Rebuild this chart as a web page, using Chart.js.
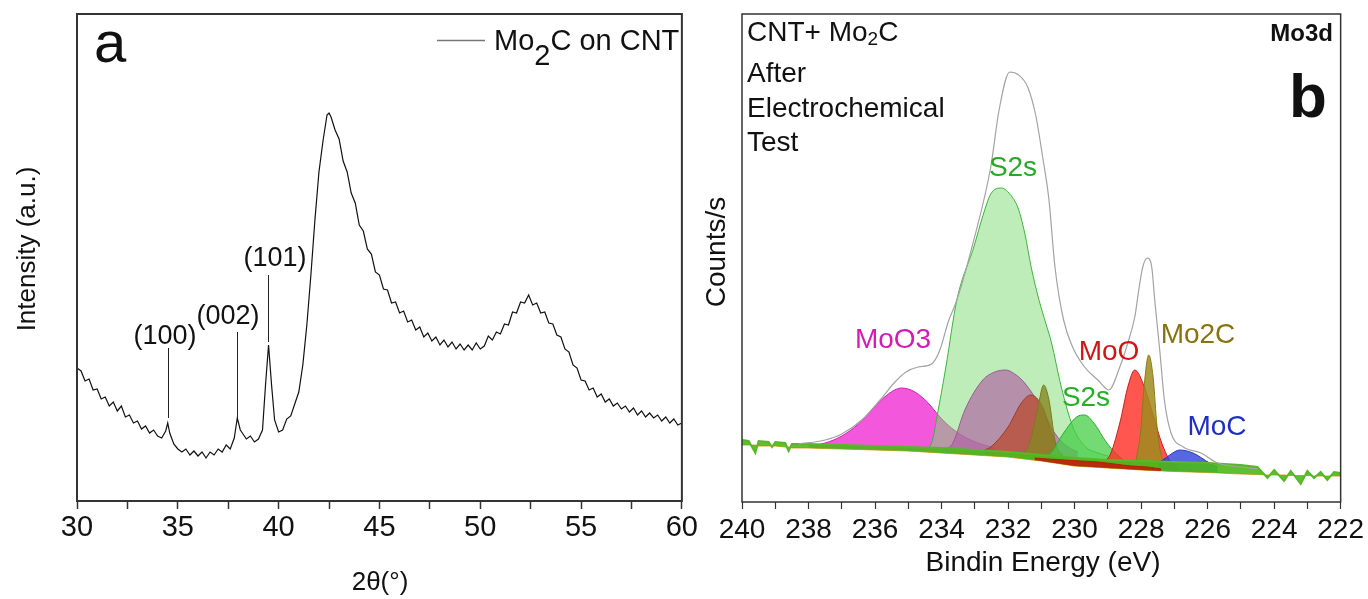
<!DOCTYPE html>
<html>
<head>
<meta charset="utf-8">
<script src="https://cdn.jsdelivr.net/npm/chart.js@4.4.1/dist/chart.umd.min.js"></script>
<style>
  html, body { margin: 0; padding: 0; background: #fff; }
  #wrap { position: relative; width: 1368px; height: 599px; }
  #xrd { position: absolute; left: 0; top: 0; }
  #xps { position: absolute; left: 700px; top: 0; }
</style>
</head>
<body>
<div id="wrap">
  <canvas id="xrd" width="700" height="599"></canvas>
  <canvas id="xps" width="668" height="599"></canvas>
</div>
<script>
const FONT = '"Liberation Sans", Arial, sans-serif';

// ---- panel a : XRD of Mo2C on CNT ----
const xrdAngle = [
  30.0, 30.2, 30.4, 30.6, 30.8, 31.0, 31.2, 31.4, 31.6, 31.8,
  32.0, 32.2, 32.4, 32.6, 32.8, 33.0, 33.2, 33.4, 33.6, 33.8,
  34.0, 34.2, 34.4, 34.5, 34.6, 34.8, 35.0, 35.2, 35.4, 35.6,
  35.8, 36.0, 36.2, 36.4, 36.6, 36.8, 37.0, 37.2, 37.4, 37.6,
  37.8, 37.95, 38.1, 38.2, 38.4, 38.6, 38.8, 39.0, 39.2, 39.35,
  39.5, 39.65, 39.8, 40.0, 40.2, 40.4, 40.6, 40.8, 41.0, 41.2,
  41.4, 41.6, 41.8, 42.0, 42.2, 42.4, 42.5, 42.6, 42.8, 43.0,
  43.2, 43.4, 43.6, 43.8, 44.0, 44.2, 44.4, 44.6, 44.8, 45.0,
  45.2, 45.4, 45.6, 45.8, 46.0, 46.2, 46.4, 46.6, 46.8, 47.0,
  47.2, 47.4, 47.6, 47.8, 48.0, 48.2, 48.4, 48.6, 48.8, 49.0,
  49.2, 49.4, 49.6, 49.8, 50.0, 50.2, 50.4, 50.6, 50.8, 51.0,
  51.2, 51.4, 51.6, 51.8, 52.0, 52.2, 52.4, 52.6, 52.8, 53.0,
  53.2, 53.4, 53.6, 53.8, 54.0, 54.2, 54.4, 54.6, 54.8, 55.0,
  55.2, 55.4, 55.6, 55.8, 56.0, 56.2, 56.4, 56.6, 56.8, 57.0,
  57.2, 57.4, 57.6, 57.8, 58.0, 58.2, 58.4, 58.6, 58.8, 59.0,
  59.2, 59.4, 59.6, 59.8, 60.0
];
const xrdIntensity = [
  133, 130, 120, 122, 111, 112, 102, 104, 95, 99,
  90, 95, 84, 86, 78, 80, 72, 75, 68, 71,
  65, 63, 70, 78, 68, 57, 52, 49, 52, 46,
  50, 45, 49, 43, 49, 46, 52, 49, 56, 52,
  63, 83, 71, 68, 62, 65, 59, 62, 71, 116,
  156, 116, 81, 69, 71, 82, 85, 97, 109, 136,
  176, 226, 281, 329, 360, 386, 388, 384, 371, 362,
  340, 329, 308, 298, 276, 270, 252, 247, 229, 226,
  212, 211, 198, 199, 188, 190, 179, 181, 171, 174,
  164, 168, 160, 164, 156, 161, 154, 159, 152, 157,
  151, 156, 151, 158, 152, 155, 165, 161, 169, 167,
  177, 176, 189, 188, 199, 198, 206, 196, 198, 188,
  189, 178, 177, 166, 164, 152, 149, 136, 133, 121,
  120, 111, 113, 104, 107, 99, 102, 95, 98, 92,
  95, 89, 93, 86, 90, 84, 88, 83, 86, 80,
  84, 78, 82, 76, 78
];
const peakNames = ['(100)', '(002)', '(101)'];
const peakAngle = [34.5, 37.93, 39.47];
const peakLineFrom = [83, 83, 159];
const peakLineTo = [153, 169, 226];

// ---- panel b : XPS Mo3d, CNT + Mo2C after electrochemical test ----
const bgEnergy = [240, 239.8, 239.6, 239.5, 239.2, 239.1, 239.0, 238.7, 238.6, 238.5,
  238, 237, 236, 235, 234, 233, 232, 231, 230, 229,
  228, 227, 226, 225, 224.5, 224.2, 224.0, 223.7, 223.5, 223.2,
  223.0, 222.8, 222.6, 222.4, 222.2, 222.0];
const bgUpper = [62, 61, 49, 61, 60, 55, 60, 59, 51, 58,
  58, 57, 56, 55, 54, 52, 50, 47, 44, 42,
  41, 40, 39, 37, 35, 24, 32, 21, 31, 18,
  31, 24, 30, 22, 30, 29];
const bgLower = [57, 57, 57, 56, 56, 56, 56, 55, 55, 54,
  54, 53, 52, 51, 49, 47, 45, 41, 36, 34,
  32, 30.5, 29.5, 28, 27.5, 27, 27, 27, 26.5, 26.5,
  26.5, 26, 26, 26, 26, 26];

const envEnergy = [238.3, 237.5, 237.0, 236.4, 235.85, 235.4, 235.07, 234.7, 234.3, 234.05,
  233.8, 233.54, 233.03, 232.52, 232.27, 231.95, 231.68, 231.41, 231.17, 230.96,
  230.77, 230.59, 230.33, 230.06, 229.7, 229.3, 228.97, 228.64, 228.4, 228.19,
  228.07, 227.95, 227.81, 227.68, 227.59, 227.44, 227.3, 227.1, 226.73, 226.2,
  225.7, 225.0, 224.5];
const envCounts = [58, 62, 68, 82, 102, 120, 130, 135, 138, 152,
  180, 202, 262, 335, 392, 430, 427, 415, 387, 345,
  302, 235, 182, 155, 135, 122, 112, 135, 159, 185,
  212, 235, 244, 235, 202, 152, 102, 69, 55, 49,
  39, 35, 33];

const moo3Energy = [238.0, 237.5, 237.0, 236.5, 236.1, 235.6, 235.2, 234.8, 234.4, 234.05, 233.7, 233.3, 232.9, 232.4];
const moo3Counts = [56, 59, 66, 78, 92, 108, 114, 110, 99, 85, 74, 65, 59, 54];

const s2sEnergy = [234.5, 234.3, 234.1, 233.87, 233.54, 233.03, 232.75, 232.52, 232.2, 231.9,
  231.7, 231.5, 231.3, 231.07, 230.85, 230.7, 230.4, 230.05, 229.7, 229.3, 229.0];
const s2sCounts = [53, 59, 92, 135, 202, 255, 287, 308, 314, 306,
  294, 269, 234, 202, 177, 160, 115, 75, 56, 49, 46];

const mauveEnergy = [233.9, 233.66, 233.3, 232.76, 232.4, 232.07, 231.8, 231.5, 230.96, 230.6, 230.2, 229.9];
const mauveCounts = [52, 59, 92, 122, 130, 132, 128, 119, 92, 69, 55, 50];

const brownEnergy = [232.7, 232.52, 232.0, 231.6, 231.32, 230.96, 230.7, 230.5, 230.35];
const brownCounts = [52, 55, 75, 99, 107, 95, 69, 52, 47];

const oliveEnergy = [231.5, 231.35, 231.1, 230.93, 230.77, 230.59, 230.45, 230.3];
const oliveCounts = [50, 59, 95, 117, 102, 62, 49, 45];

const s2sSmallEnergy = [230.9, 230.72, 230.33, 229.94, 229.7, 229.42, 229.03, 228.52, 228.3];
const s2sSmallCounts = [46, 49, 69, 85, 87, 79, 59, 42, 40];

const mooEnergy = [229.2, 228.97, 228.64, 228.4, 228.19, 227.9, 227.62, 227.38, 227.1, 226.9];
const mooCounts = [41, 45, 79, 115, 132, 115, 85, 59, 40, 37];

const mo2cEnergy = [228.15, 228.02, 227.9, 227.77, 227.64, 227.52, 227.38, 227.25];
const mo2cCounts = [42, 69, 119, 147, 125, 75, 45, 40];

const mocEnergy = [227.5, 227.35, 227.14, 226.84, 226.44, 225.94, 225.7];
const mocCounts = [39, 42, 47, 52, 49, 39, 35];

const redBandEnergy = [231.2, 230.8, 230.3, 229.8, 229.3, 228.8, 228.3, 227.8, 227.4];
const redBandCounts = [44, 43, 42, 41, 40, 38, 36, 35, 33];

const pts = (xs, ys) => xs.map((v, i) => ({ x: v, y: ys[i] }));

function drawRuns(ctx, runs, x, y) {
  // runs: [text, size, baseline shift]
  runs.forEach(([t, size, dy]) => {
    ctx.font = size + 'px ' + FONT;
    ctx.fillText(t, x, y + dy);
    x += ctx.measureText(t).width;
  });
}

// label anchors for the hkl tags, in data units
const hklLabelAt = [[34.36, 164], [37.49, 184], [39.82, 242]];

const xrdDecor = {
  id: 'xrdDecor',
  afterDraw(chart) {
    const { ctx, chartArea: a, scales: { x, y } } = chart;
    ctx.save();
    ctx.strokeStyle = '#333';
    ctx.lineWidth = 2;
    ctx.strokeRect(a.left, a.top, a.right - a.left, a.bottom - a.top);

    // hkl marker lines
    ctx.strokeStyle = '#222';
    ctx.lineWidth = 1;
    peakAngle.forEach((ang, i) => {
      const px = Math.round(x.getPixelForValue(ang)) + 0.5;
      ctx.beginPath();
      ctx.moveTo(px, y.getPixelForValue(peakLineFrom[i]));
      ctx.lineTo(px, y.getPixelForValue(peakLineTo[i]));
      ctx.stroke();
    });
    ctx.fillStyle = '#111';
    ctx.font = '27px ' + FONT;
    ctx.textAlign = 'center';
    ctx.textBaseline = 'middle';
    peakNames.forEach((t, i) => {
      ctx.fillText(t, x.getPixelForValue(hklLabelAt[i][0]), y.getPixelForValue(hklLabelAt[i][1]));
    });

    // panel letter
    ctx.textAlign = 'left';
    ctx.textBaseline = 'alphabetic';
    ctx.font = '58px ' + FONT;
    ctx.fillText('a', 94, 62);

    // legend
    ctx.strokeStyle = '#777';
    ctx.lineWidth = 1.5;
    ctx.beginPath();
    ctx.moveTo(437, 40.5);
    ctx.lineTo(485, 40.5);
    ctx.stroke();
    drawRuns(ctx, [['Mo', 29, 0], ['2', 29, 15], ['C on CNT', 29, 0]], 494, 50);

    // axis titles
    ctx.textAlign = 'center';
    ctx.textBaseline = 'middle';
    ctx.font = '26px ' + FONT;
    ctx.fillText('2\u03b8(\u00b0)', 380, 583);
    ctx.translate(28, 249);
    ctx.rotate(-Math.PI / 2);
    ctx.fillText('Intensity (a.u.)', 0, 0);
    ctx.restore();
  }
};

new Chart(document.getElementById('xrd'), {
  type: 'line',
  data: {
    datasets: [{
      data: pts(xrdAngle, xrdIntensity),
      borderColor: '#111',
      borderWidth: 1.2,
      pointRadius: 0,
      tension: 0,
      fill: false
    }]
  },
  options: {
    responsive: false,
    animation: false,
    layout: { padding: { left: 0, top: 14, right: 18, bottom: 0 } },
    plugins: { legend: { display: false }, tooltip: { enabled: false } },
    scales: {
      x: {
        type: 'linear', min: 30, max: 60,
        afterFit(s) { s.height = 98; },
        ticks: {
          stepSize: 2.5, autoSkip: false, maxRotation: 0, padding: 2,
          color: '#111', font: { family: FONT, size: 29 },
          callback: v => (v % 5 === 0 ? v : '')
        },
        grid: { drawOnChartArea: false, tickLength: 8, tickColor: '#333', tickWidth: 1.5 },
        border: { display: false }
      },
      y: {
        min: 0, max: 487,
        afterFit(s) { s.width = 77; },
        ticks: { display: false },
        grid: { display: false },
        border: { display: false }
      }
    }
  },
  plugins: [xrdDecor]
});

// ---- panel b chart ----
const comp = (data, fillColor, lineColor) => ({
  data, backgroundColor: fillColor, borderColor: lineColor, borderWidth: 1,
  fill: 'origin', pointRadius: 0, cubicInterpolationMode: 'monotone'
});

const xpsDecor = {
  id: 'xpsDecor',
  afterDraw(chart) {
    const { ctx, chartArea: a } = chart;
    ctx.save();
    ctx.strokeStyle = '#333';
    ctx.lineWidth = 1.5;
    ctx.strokeRect(a.left, a.top, a.right - a.left, a.bottom - a.top);

    ctx.fillStyle = '#111';
    ctx.textAlign = 'left';
    ctx.textBaseline = 'alphabetic';
    drawRuns(ctx, [['CNT+ Mo', 28, 0], ['2', 19, 4], ['C', 28, 0]], 47, 41);
    ctx.font = '28px ' + FONT;
    ctx.fillText('After', 47, 82);
    ctx.fillText('Electrochemical', 47, 117);
    ctx.fillText('Test', 47, 151);

    ctx.textAlign = 'right';
    ctx.font = 'bold 24px ' + FONT;
    ctx.fillText('Mo3d', 633, 41);
    ctx.textAlign = 'center';
    ctx.font = 'bold 62px ' + FONT;
    ctx.fillText('b', 608, 117);

    // component labels
    ctx.textBaseline = 'middle';
    ctx.font = '28px ' + FONT;
    const tags = [
      ['S2s', 313, 168, '#27a827'],
      ['MoO3', 193, 340, '#d21cb2'],
      ['MoO', 409, 352, '#d01515'],
      ['Mo2C', 498, 335, '#857410'],
      ['S2s', 386, 398, '#25b025'],
      ['MoC', 517, 427, '#1c2fc4']
    ];
    tags.forEach(([t, x, y, c]) => { ctx.fillStyle = c; ctx.fillText(t, x, y); });

    // axis titles
    ctx.fillStyle = '#111';
    ctx.fillText('Bindin Energy (eV)', 343, 563);
    ctx.translate(17, 252);
    ctx.rotate(-Math.PI / 2);
    ctx.fillText('Counts/s', 0, 0);
    ctx.restore();
  }
};

new Chart(document.getElementById('xps'), {
  type: 'line',
  data: {
    datasets: [
      // 0 envelope
      { data: pts(envEnergy, envCounts), borderColor: '#a3a3a3', borderWidth: 1.2, pointRadius: 0,
        fill: false, cubicInterpolationMode: 'monotone' },
      // 1 dark red band under the baseline
      { data: pts(redBandEnergy, redBandCounts), borderColor: 'rgba(190,20,10,0.9)', borderWidth: 1,
        backgroundColor: 'rgba(200,20,10,0.85)', pointRadius: 0, fill: 3, cubicInterpolationMode: 'monotone' },
      // 2 background upper edge
      { data: pts(bgEnergy, bgUpper), borderColor: '#58b82a', borderWidth: 2, pointRadius: 0, tension: 0,
        backgroundColor: 'rgba(75,185,25,0.9)', fill: '+1' },
      // 3 background lower edge (white below)
      { data: pts(bgEnergy, bgLower), borderColor: '#e3a232', borderWidth: 1.2, pointRadius: 0, tension: 0,
        backgroundColor: '#ffffff', fill: 'origin' },
      comp(pts(mocEnergy, mocCounts), 'rgba(45,65,220,0.8)', '#2a3cc0'),
      comp(pts(mo2cEnergy, mo2cCounts), 'rgba(160,140,30,0.85)', '#8a7a12'),
      comp(pts(mooEnergy, mooCounts), 'rgba(255,45,35,0.8)', '#c81e1e'),
      comp(pts(s2sSmallEnergy, s2sSmallCounts), 'rgba(70,205,70,0.75)', '#2fa82f'),
      comp(pts(oliveEnergy, oliveCounts), 'rgba(135,135,35,0.8)', '#7a7a20'),
      comp(pts(brownEnergy, brownCounts), 'rgba(185,75,50,0.75)', '#9a3a25'),
      comp(pts(mauveEnergy, mauveCounts), 'rgba(175,95,165,0.65)', '#9a5a90'),
      comp(pts(s2sEnergy, s2sCounts), 'rgba(125,220,115,0.5)', '#3cb43c'),
      comp(pts(moo3Energy, moo3Counts), 'rgba(240,40,210,0.78)', '#d020b0')
    ]
  },
  options: {
    responsive: false,
    animation: false,
    layout: { padding: { left: 0, top: 14, right: 27, bottom: 0 } },
    plugins: { legend: { display: false }, tooltip: { enabled: false } },
    scales: {
      x: {
        type: 'linear', min: 222, max: 240, reverse: true,
        afterFit(s) { s.height = 97; },
        ticks: {
          stepSize: 1, autoSkip: false, maxRotation: 0, padding: 4,
          color: '#111', font: { family: FONT, size: 28 },
          callback: v => (v % 2 === 0 ? v : '')
        },
        grid: { drawOnChartArea: false, tickLength: 7, tickColor: '#333', tickWidth: 1.2 },
        border: { display: false }
      },
      y: {
        min: 0, max: 488,
        afterFit(s) { s.width = 42; },
        ticks: { display: false },
        grid: { display: false },
        border: { display: false }
      }
    }
  },
  plugins: [xpsDecor]
});
</script>
</body>
</html>
